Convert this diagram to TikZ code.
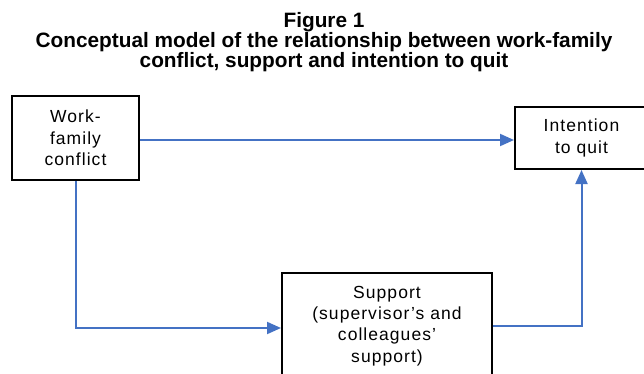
\documentclass[tikz,border=0pt]{standalone}
\usepackage{fontspec}
\setmainfont{Liberation Sans}
\newfontfamily{\boxfamily}[LetterSpace=6]{Liberation Sans}
\usetikzlibrary{arrows.meta}
\definecolor{linkblue}{HTML}{4472C4}
\newcommand{\titletextfont}{\bfseries\fontsize{20.8}{20}\selectfont}
\newcommand{\boxtextfont}{\boxfamily\fontsize{17.5}{21.3}\selectfont}
\begin{document}
\begin{tikzpicture}[x=1pt,y=-1pt,
  box/.style={draw=black, line width=2pt, align=center, inner sep=0pt, font=\boxtextfont},
  link/.style={draw=linkblue, line width=2pt, -{Triangle[length=14pt,width=12pt]}}]
\useasboundingbox (0,0) rectangle (644,374);

% heading
\node[anchor=north, align=center, inner sep=0pt, font=\titletextfont] (title) at (324,12)
  {Figure 1\\Conceptual model of the relationship between work-family\\conflict, support and intention to quit};

% concept boxes
\node[box, minimum width=127pt, minimum height=84pt] (wfc) at (75.5,138) {Work-\\family\\conflict};
\node[box, minimum width=133pt, minimum height=62pt] (intent) at (581.5,138) {Intention\\to quit};
\node[box, minimum width=210pt, minimum height=106pt] (support) at (387,326)
  {Support\\(supervisor’s and\\colleagues’\\support)};

% relationships
\draw[link] ([yshift=-2pt]wfc.east) -- ([yshift=-2pt]intent.west);
\draw[link] (wfc.south) |- ([yshift=-2pt]support.west);
\draw[link] (support.east) -| (intent.south);
\end{tikzpicture}
\end{document}
